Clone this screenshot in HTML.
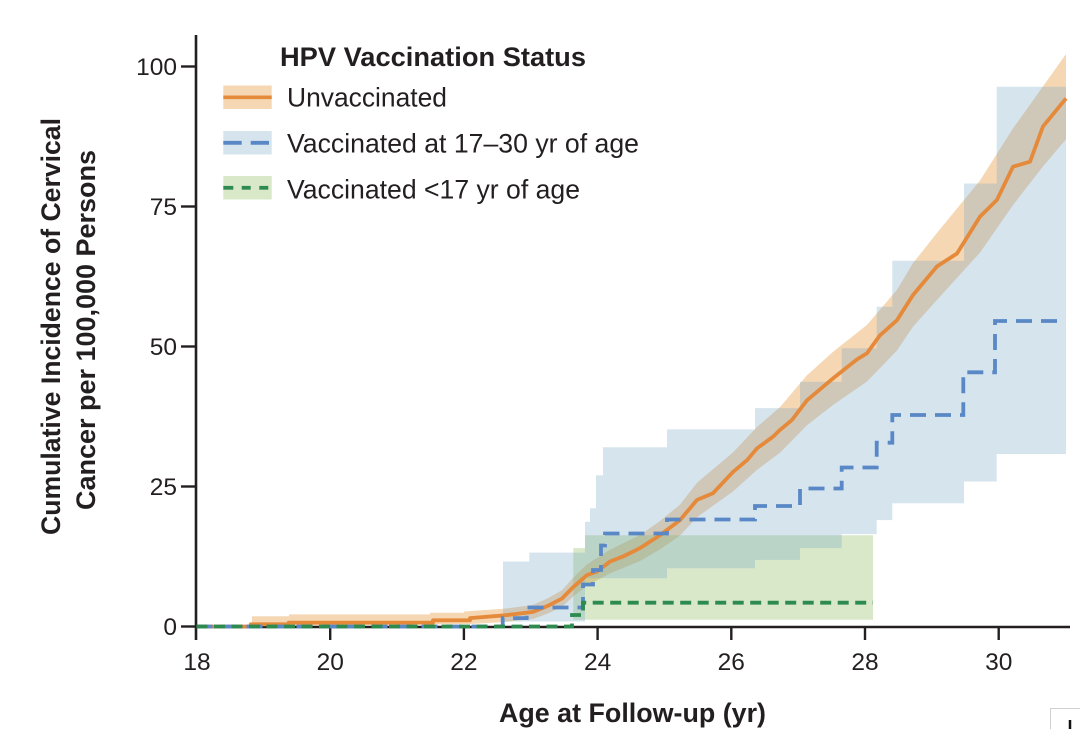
<!DOCTYPE html>
<html>
<head>
<meta charset="utf-8">
<style>
html,body{margin:0;padding:0;background:#fff;}
svg{display:block;}
text{font-family:"Liberation Sans",Arial,sans-serif;fill:#231f20;}
</style>
</head>
<body>
<svg width="1080" height="729" viewBox="0 0 1080 729" xmlns="http://www.w3.org/2000/svg">
  <rect x="0" y="0" width="1080" height="729" fill="#fff"/>

  <!-- Confidence bands -->
  <path fill="#E69B44" fill-opacity="0.4" d="M252,626.5 V616.2 H289 V614.4 H430 V612.7 H464 V611.5 L505,608.6 L533,604.9 L548,598.1 L562,590.2 L573,577.9 L587,564.4 L610,549.7 L640,535.1 L660,521 L680,504.6 L697,482.7 L733,452.4 L757,427 L780,407.1 L807,375.2 L833,351.9 L867,324.9 L897,289.8 L913,263.1 L937,232.9 L980,180.5 L1013,128.4 L1043,86.4 L1066,54 L1066,139.4 L1043,166.4 L1013,205.1 L980,252.6 L937,299.9 L913,326.8 L897,350.5 L867,381.5 L833,405 L807,425.3 L780,452.8 L757,469.9 L733,491.5 L697,517.2 L680,535.6 L660,549.4 L640,561.1 L610,573.4 L587,585.6 L573,596.7 L562,606.8 L548,613.5 L533,619 L505,622 L470,624 L252,626 Z"/>
  <path fill="#80B24B" fill-opacity="0.3" d="M573.3,619.8 V548.1 H585 V535.2 H873 V619.8 Z"/>
  <path fill="#76A5C6" fill-opacity="0.3" d="M503,626 V561.5 H529.3 V552.6 H585 V521.8 H590 V508.3 H596 V475.3 H603 V447.3 H667 V429.4 H755 V408.1 H800 V381.8 H841.7 V348.2 H876.7 V306.7 H892.3 V260.8 H964 V183.5 H996.7 V86.7 H1066 V454 H996.7 V481.5 H964 V503.3 H892.3 V520.1 H876.7 V534.1 H841.7 V548.1 H800 V559.9 H755 V568.3 H667 V578.3 H585 V621.5 H503 Z"/>

  <!-- Axes -->
  <line x1="196" y1="35" x2="196" y2="640" stroke="#231f20" stroke-width="2.6"/>
  <line x1="194.7" y1="627" x2="1070" y2="627" stroke="#231f20" stroke-width="2.6"/>
  <g stroke="#231f20" stroke-width="2.4">
    <line x1="181" y1="626.5" x2="196" y2="626.5"/>
    <line x1="181" y1="486.5" x2="196" y2="486.5"/>
    <line x1="181" y1="346.5" x2="196" y2="346.5"/>
    <line x1="181" y1="206.5" x2="196" y2="206.5"/>
    <line x1="181" y1="66.5" x2="196" y2="66.5"/>
    <line x1="330.2" y1="627" x2="330.2" y2="640"/>
    <line x1="463.9" y1="627" x2="463.9" y2="640"/>
    <line x1="597.6" y1="627" x2="597.6" y2="640"/>
    <line x1="731.3" y1="627" x2="731.3" y2="640"/>
    <line x1="865" y1="627" x2="865" y2="640"/>
    <line x1="998.7" y1="627" x2="998.7" y2="640"/>
  </g>

  <!-- Series lines -->
  <path fill="none" stroke="#E5893A" stroke-width="3.8" stroke-linejoin="round" d="M196.5,626.5 L250.8,626.5 L250.8,624.3 L288.7,624.3 L288.7,622.6 L433,622.6 L433,620.3 L470,620.3 L470,618.1 L505,615.3 L533,611.9 L548,605.8 L562,598.5 L573,587.3 L587,575 L597,571.6 L610,561.5 L623,556.5 L640,548.1 L660,535.2 L680,520.1 L697,499.9 L713,493.2 L733,471.9 L747,460.2 L757,448.4 L773,436.7 L780,429.9 L792,419.9 L807,400.3 L833,378.4 L857,359.4 L867,353.2 L880,335.3 L897,320.2 L913,295 L937,266.4 L957,253.5 L980,216.6 L997,199.8 L1013,166.7 L1030,161.7 L1043,126.4 L1066,98.4"/>
  <path fill="none" stroke="#5A88C6" stroke-width="3.8" stroke-dasharray="16 9" d="M196.5,626.5 H502.7 V618.1 H526.7 V607.5 H583 V584.5 H593 V570 H601 V545.5 H605 V533.5 H667 V519.5 H755 V506 H800 V488.5 H841.7 V467.5 H876.7 V442.7 H892.3 V415 H963.3 V372.3 H995 V321 H1066"/>
  <path fill="none" stroke="#2E8B4F" stroke-width="3.8" stroke-dasharray="11 6.5" d="M196.5,626.5 H572 V615 H583 V602.7 H873"/>

  <!-- Tick labels -->
  <g font-size="24.5" text-anchor="end">
    <text x="177" y="635">0</text>
    <text x="177" y="495">25</text>
    <text x="177" y="355">50</text>
    <text x="177" y="215">75</text>
    <text x="177" y="75">100</text>
  </g>
  <g font-size="24.5" text-anchor="middle">
    <text x="197" y="670">18</text>
    <text x="330.2" y="670">20</text>
    <text x="463.9" y="670">22</text>
    <text x="597.6" y="670">24</text>
    <text x="731.3" y="670">26</text>
    <text x="865" y="670">28</text>
    <text x="998.7" y="670">30</text>
  </g>

  <!-- Axis titles -->
  <text x="499" y="722" font-size="27" font-weight="bold" textLength="267" lengthAdjust="spacingAndGlyphs">Age at Follow-up (yr)</text>
  <text transform="translate(60,326.5) rotate(-90)" font-size="27" font-weight="bold" text-anchor="middle" textLength="417" lengthAdjust="spacingAndGlyphs">Cumulative Incidence of Cervical</text>
  <text transform="translate(95,330) rotate(-90)" font-size="27" font-weight="bold" text-anchor="middle" textLength="360" lengthAdjust="spacingAndGlyphs">Cancer per 100,000 Persons</text>

  <!-- Legend -->
  <text x="280" y="66" font-size="27" font-weight="bold" textLength="306" lengthAdjust="spacingAndGlyphs">HPV Vaccination Status</text>
  <rect x="223.3" y="85.5" width="48.4" height="23.5" fill="#E69B44" fill-opacity="0.4"/>
  <line x1="223.3" y1="97.3" x2="271.7" y2="97.3" stroke="#E5893A" stroke-width="3.6"/>
  <text x="287" y="106.5" font-size="27" textLength="160" lengthAdjust="spacingAndGlyphs">Unvaccinated</text>

  <rect x="223.3" y="131" width="48.4" height="23.5" fill="#76A5C6" fill-opacity="0.3"/>
  <line x1="223.3" y1="142.8" x2="241.7" y2="142.8" stroke="#5A88C6" stroke-width="3.8"/>
  <line x1="250.7" y1="142.8" x2="269" y2="142.8" stroke="#5A88C6" stroke-width="3.8"/>
  <text x="287" y="152.5" font-size="27" textLength="352" lengthAdjust="spacingAndGlyphs">Vaccinated at 17–30 yr of age</text>

  <rect x="223.3" y="176" width="48.4" height="23.5" fill="#80B24B" fill-opacity="0.3"/>
  <line x1="223.3" y1="187.8" x2="233.3" y2="187.8" stroke="#2E8B4F" stroke-width="3.8"/>
  <line x1="241.7" y1="187.8" x2="250.7" y2="187.8" stroke="#2E8B4F" stroke-width="3.8"/>
  <line x1="259.3" y1="187.8" x2="268.3" y2="187.8" stroke="#2E8B4F" stroke-width="3.8"/>
  <text x="287" y="198.5" font-size="27" textLength="293" lengthAdjust="spacingAndGlyphs">Vaccinated &lt;17 yr of age</text>

  <!-- bottom-right corner mark -->
  <line x1="1050.5" y1="708" x2="1050.5" y2="729" stroke="#d0d0d0" stroke-width="1"/>
  <line x1="1050" y1="708.5" x2="1080" y2="708.5" stroke="#d0d0d0" stroke-width="1"/>
  <line x1="1070" y1="720" x2="1070" y2="729" stroke="#111" stroke-width="2.5"/>
</svg>
</body>
</html>
